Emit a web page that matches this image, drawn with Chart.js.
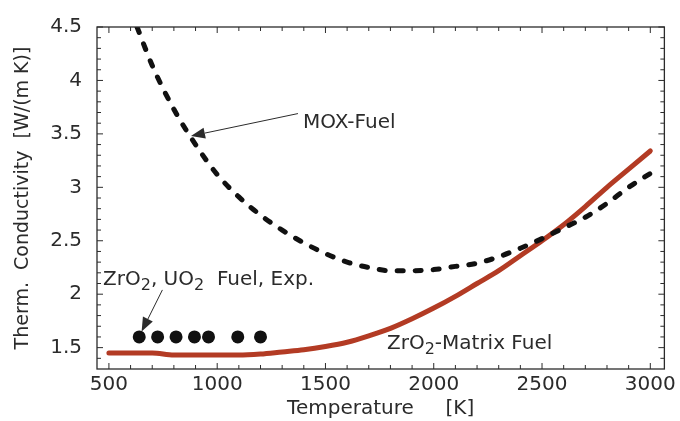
<!DOCTYPE html>
<html>
<head>
<meta charset="utf-8">
<script src="https://cdn.jsdelivr.net/npm/chart.js@4/dist/chart.umd.min.js"></script>
<style>
  html, body { margin: 0; padding: 0; background: #fff; }
  #wrap { width: 680px; height: 421px; }
</style>
</head>
<body>
<div id="wrap"><canvas id="cond"></canvas></div>
<script>
// thermal conductivity vs temperature
var xTicks = [500, 1000, 1500, 2000, 2500, 3000];
var yTicks = [1.5, 2, 2.5, 3, 3.5, 4, 4.5];

var moxTemps = [630, 700, 800, 900, 1000, 1100, 1200, 1300, 1400, 1500, 1600, 1700, 1800,
                1900, 2000, 2100, 2200, 2300, 2400, 2500, 2600, 2700, 2800, 2900, 3000];
var moxK = [4.50, 4.14, 3.73, 3.40, 3.12, 2.91, 2.74, 2.60, 2.48, 2.38, 2.30, 2.25, 2.22,
            2.22, 2.23, 2.26, 2.29, 2.35, 2.43, 2.52, 2.62, 2.72, 2.85, 3.00, 3.13];

var matrixTemps = [500, 600, 700, 800, 900, 1000, 1100, 1200, 1300, 1400, 1500, 1600, 1700,
                   1800, 1900, 2000, 2100, 2200, 2300, 2400, 2500, 2600, 2700, 2800, 2900, 3000];
var matrixK = [1.45, 1.45, 1.45, 1.43, 1.43, 1.43, 1.43, 1.44, 1.46, 1.48, 1.51, 1.55, 1.61,
               1.68, 1.77, 1.87, 1.98, 2.10, 2.22, 2.36, 2.50, 2.65, 2.82, 3.00, 3.17, 3.34];

var expTemps = [640, 725, 810, 895, 960, 1095, 1200];
var expK = [1.6, 1.6, 1.6, 1.6, 1.6, 1.6, 1.6];

function pts(xs, ys) {
  return xs.map(function (x, i) { return {x: x, y: ys[i]}; });
}

var FONT = "'DejaVu Sans', sans-serif";
var INK = '#2b2b2b';
Chart.defaults.font.family = FONT;
Chart.defaults.color = INK;

// box around the plot with inward ticks on all four sides
var framePlugin = {
  id: 'frame',
  afterDraw: function (chart) {
    var ctx = chart.ctx, a = chart.chartArea;
    var xs = chart.scales.x, ys = chart.scales.y;
    ctx.save();
    ctx.strokeStyle = INK;
    ctx.lineWidth = 1.3;
    ctx.strokeRect(a.left, a.top, a.right - a.left, a.bottom - a.top);
    ctx.lineWidth = 1;
    ctx.beginPath();
    for (var t = 500; t <= 3000; t += 100) {
      var px = xs.getPixelForValue(t);
      var len = (t % 500 === 0) ? 6 : 4;
      ctx.moveTo(px, a.bottom); ctx.lineTo(px, a.bottom - len);
      ctx.moveTo(px, a.top); ctx.lineTo(px, a.top + len);
    }
    for (var k = 14; k <= 45; k++) {
      var py = ys.getPixelForValue(k / 10);
      var l2 = (k % 5 === 0) ? 6 : 4;
      ctx.moveTo(a.left, py); ctx.lineTo(a.left + l2, py);
      ctx.moveTo(a.right, py); ctx.lineTo(a.right - l2, py);
    }
    ctx.stroke();
    ctx.restore();
  }
};

// text with lowered small "2" for the oxide formulas
function richText(ctx, parts, x, y, size) {
  var cx = x;
  parts.forEach(function (p) {
    var sub = p[1];
    ctx.font = (sub ? Math.round(size * 0.8) : size) + 'px ' + FONT;
    ctx.fillText(p[0], cx, sub ? y + size * 0.3 : y);
    cx += ctx.measureText(p[0]).width;
  });
}

function arrow(ctx, x0, y0, x1, y1) {
  var ang = Math.atan2(y1 - y0, x1 - x0);
  var head = 14, half = 5.5;
  var bx = x1 - head * Math.cos(ang), by = y1 - head * Math.sin(ang);
  ctx.beginPath();
  ctx.moveTo(x0, y0); ctx.lineTo(bx, by);
  ctx.stroke();
  ctx.beginPath();
  ctx.moveTo(x1, y1);
  ctx.lineTo(bx + half * Math.sin(ang), by - half * Math.cos(ang));
  ctx.lineTo(bx - half * Math.sin(ang), by + half * Math.cos(ang));
  ctx.closePath();
  ctx.fill();
}

var labelPlugin = {
  id: 'labels',
  afterDatasetsDraw: function (chart) {
    var ctx = chart.ctx, xs = chart.scales.x, ys = chart.scales.y;
    function X(v) { return xs.getPixelForValue(v); }
    function Y(v) { return ys.getPixelForValue(v); }
    ctx.save();
    ctx.fillStyle = INK;
    ctx.strokeStyle = INK;
    ctx.lineWidth = 1;
    ctx.textBaseline = 'middle';
    ctx.textAlign = 'left';

    richText(ctx, [['MOX-Fuel', false]], X(1396), Y(3.60), 20);
    arrow(ctx, X(1373), Y(3.69), X(879), Y(3.48));

    richText(ctx, [['ZrO', false], ['2', true], [', UO', false], ['2', true], ['  Fuel, Exp.', false]],
             X(473), Y(2.13), 20);
    arrow(ctx, X(747), Y(2.04), X(651), Y(1.65));

    richText(ctx, [['ZrO', false], ['2', true], ['-Matrix Fuel', false]], X(1784), Y(1.54), 20);
    ctx.restore();
  }
};

new Chart(document.getElementById('cond'), {
  type: 'line',
  data: {
    datasets: [
      {
        label: 'MOX-Fuel',
        data: pts(moxTemps, moxK),
        borderColor: '#111',
        borderWidth: 5,
        borderDash: [6, 12],
        borderCapStyle: 'round',
        cubicInterpolationMode: 'monotone',
        pointRadius: 0,
        order: 1
      },
      {
        label: 'ZrO2-Matrix Fuel',
        data: pts(matrixTemps, matrixK),
        borderColor: '#b33b24',
        borderWidth: 5,
        borderCapStyle: 'round',
        cubicInterpolationMode: 'monotone',
        pointRadius: 0,
        order: 2
      },
      {
        label: 'ZrO2, UO2 Fuel, Exp.',
        data: pts(expTemps, expK),
        showLine: false,
        pointRadius: 6.5,
        pointBackgroundColor: '#111',
        pointBorderWidth: 0,
        order: 0
      }
    ]
  },
  options: {
    responsive: true,
    maintainAspectRatio: false,
    animation: false,
    events: [],
    layout: { padding: { left: 12, right: 10, top: 16, bottom: 0 } },
    plugins: { legend: { display: false }, tooltip: { enabled: false } },
    scales: {
      x: {
        type: 'linear',
        min: 445,
        max: 3065,
        afterBuildTicks: function (s) { s.ticks = xTicks.map(function (v) { return {value: v}; }); },
        afterFit: function (s) { s.height = 52; },
        grid: { display: false, drawTicks: false },
        border: { display: false },
        ticks: { font: { size: 20 }, color: INK, padding: 4, maxRotation: 0,
                 callback: function (v) { return String(v); } },
        title: { display: true, text: 'Temperature     [K]', font: { size: 20 }, color: INK,
                 padding: { top: 0, bottom: 0 } }
      },
      y: {
        type: 'linear',
        min: 1.3,
        max: 4.5,
        afterBuildTicks: function (s) { s.ticks = yTicks.map(function (v) { return {value: v}; }); },
        afterFit: function (s) { s.width = 85; },
        grid: { display: false, drawTicks: false },
        border: { display: false },
        ticks: { font: { size: 20 }, color: INK, padding: 15,
                 callback: function (v) { return String(v); } },
        title: { display: true, text: 'Therm.  Conductivity  [W/(m K)]', font: { size: 19 }, color: INK,
                 padding: { top: 0, bottom: 4 } }
      }
    }
  },
  plugins: [framePlugin, labelPlugin]
});
</script>
</body>
</html>
